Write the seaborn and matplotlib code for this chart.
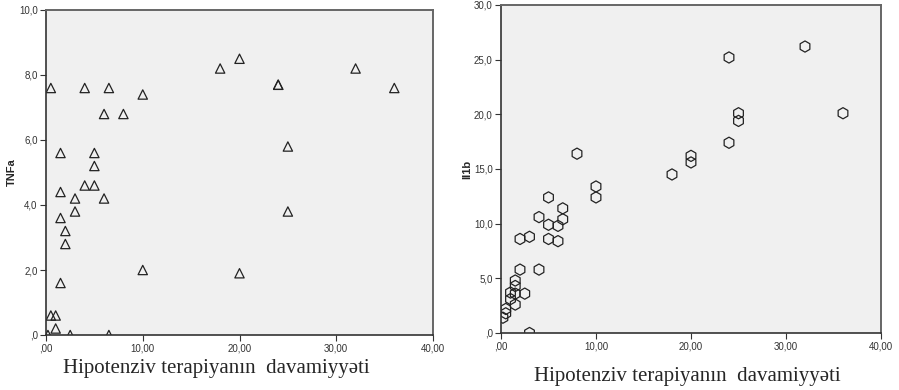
import seaborn as sns
import matplotlib.pyplot as plt
import pandas as pd

# TNFa vs duration of therapy
tnf_x = [0.5, 1.5, 1.5, 3, 4, 4, 5, 5, 5, 6, 6, 6.5, 8, 10, 18, 20, 24, 24, 25, 32, 36,
         1.5, 3, 2, 2, 25, 10, 20, 1.5, 0.5, 1.0, 1.0, 0.2, 2.5, 6.5]
tnf_y = [7.6, 5.6, 4.4, 4.2, 7.6, 4.6, 5.6, 5.2, 4.6, 6.8, 4.2, 7.6, 6.8, 7.4, 8.2, 8.5, 7.7, 7.7, 5.8, 8.2, 7.6,
         3.6, 3.8, 3.2, 2.8, 3.8, 2.0, 1.9, 1.6, 0.6, 0.6, 0.2, 0.0, 0.0, 0.0]

# Il1b vs duration of therapy
il_x = [32, 24, 25, 25, 36, 24, 8, 20, 20, 18, 10, 10, 5, 6.5, 4, 6.5, 5, 6, 3, 2, 5, 6,
        2, 4, 1.5, 1.5, 1.0, 1.5, 2.5, 1.0, 1.5, 0.5, 0.5, 0.2, 3]
il_y = [26.2, 25.2, 20.1, 19.4, 20.1, 17.4, 16.4, 16.2, 15.6, 14.5, 13.4, 12.4, 12.4, 11.4, 10.6, 10.4, 9.9, 9.8, 8.8, 8.6, 8.6, 8.4,
        5.8, 5.8, 4.8, 4.3, 3.7, 3.6, 3.6, 3.1, 2.6, 2.2, 1.8, 1.4, 0.0]

x_ticks = [0, 10, 20, 30, 40]
x_labels = [",00", "10,00", "20,00", "30,00", "40,00"]
tnf_ticks = [0, 2, 4, 6, 8, 10]
tnf_labels = [",0", "2,0", "4,0", "6,0", "8,0", "10,0"]
il_ticks = [0, 5, 10, 15, 20, 25, 30]
il_labels = [",0", "5,0", "10,0", "15,0", "20,0", "25,0", "30,0"]
xlabel = "Hipotenziv terapiyanın  davamiyyəti"

sns.set_style("white")
plt.rcParams['font.family'] = ['Liberation Sans', 'DejaVu Sans']

df1 = pd.DataFrame({"x": tnf_x, "TNFa": tnf_y})
df2 = pd.DataFrame({"x": il_x, "Il1b": il_y})

W, H = 899, 390
fig = plt.figure(figsize=(W / 100, H / 100), dpi=100)
ax1 = fig.add_axes([46 / W, (H - 335) / H, 387 / W, 325 / H])
ax2 = fig.add_axes([501 / W, (H - 333) / H, 380 / W, 328 / H])


def style(ax, yticks, ylabels, ymax, ylab, labx):
    ax.set_facecolor("#f0f0f0")
    ax.set_xlim(0, 40)
    ax.set_ylim(0, ymax)
    ax.set_xticks(x_ticks)
    ax.set_xticklabels(x_labels)
    ax.set_yticks(yticks)
    ax.set_yticklabels(ylabels)
    ax.tick_params(axis="both", length=4, width=0.8, labelsize=7, color="#333333",
                   labelcolor="#333333", pad=2, direction="out", bottom=True, left=True)
    for s in ["top", "right"]:
        ax.spines[s].set_color("#666666")
        ax.spines[s].set_linewidth(1.4)
    for s in ["left", "bottom"]:
        ax.spines[s].set_color("#333333")
        ax.spines[s].set_linewidth(1.2)
    ax.set_xlabel("")
    ax.set_ylabel(ylab, fontsize=8, fontweight="bold")
    ax.yaxis.set_label_coords(labx, 0.5)


sns.scatterplot(data=df1, x="x", y="TNFa", ax=ax1, marker="^", s=45,
                facecolor="none", edgecolor="#222222", linewidth=0.9)
sns.scatterplot(data=df2, x="x", y="Il1b", ax=ax2, marker="h", s=65,
                facecolor="none", edgecolor="#222222", linewidth=0.9)

style(ax1, tnf_ticks, tnf_labels, 10, "TNFa", -0.075)
style(ax2, il_ticks, il_labels, 30, "Il1b", -0.076)

fig.text(216 / W, 1 - 369 / H, xlabel, ha="center", va="center", fontsize=15,
         family=["Liberation Serif", "DejaVu Serif"])
fig.text(687 / W, 1 - 377 / H, xlabel, ha="center", va="center", fontsize=15,
         family=["Liberation Serif", "DejaVu Serif"])

fig.savefig("out.png", dpi=100)
